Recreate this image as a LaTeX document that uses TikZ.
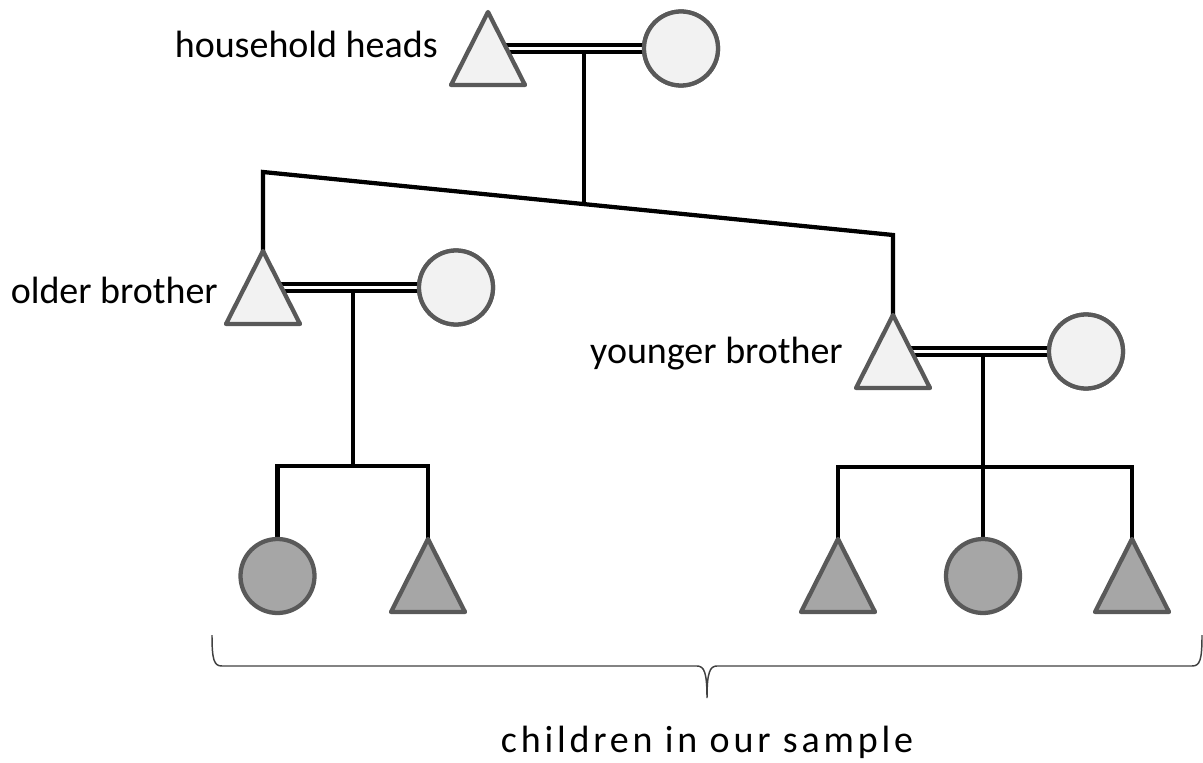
\documentclass[tikz,border=0pt]{standalone}
\usepackage{fontspec}
\setmainfont{Carlito}
\newfontfamily\spacedfont[LetterSpace=10]{Carlito}
\definecolor{lightfill}{HTML}{F2F2F2}
\definecolor{darkfill}{HTML}{A6A6A6}
\definecolor{outl}{HTML}{595959}
\definecolor{bracec}{HTML}{404040}
\begin{document}
\begin{tikzpicture}[x=0.75pt,y=-0.75pt,
  conn/.style={line width=3.2pt, draw=black},
  marriage/.style={draw=black, double=white, double distance=2.8pt, line width=2.9pt},
  lightcirc/.style={circle, draw=outl, fill=lightfill, line width=3.2pt, minimum size=55.5pt, inner sep=0pt},
  darkcirc/.style={circle, draw=outl, fill=darkfill, line width=3.2pt, minimum size=55.5pt, inner sep=0pt},
  lbl/.style={font=\fontsize{28.5}{34}\selectfont, inner sep=0pt},
  bracestyle/.style={draw=bracec, line width=1.1pt},
  pics/lighttri/.style={code={\draw[line width=3.2pt, draw=outl, fill=lightfill, line join=round] (0,-36.5) -- (37,36.5) -- (-37,36.5) -- cycle;}},
  pics/darktri/.style={code={\draw[line width=3.2pt, draw=outl, fill=darkfill, line join=round] (0,-36.5) -- (37,36.5) -- (-37,36.5) -- cycle;}}
]
\useasboundingbox (0,0) rectangle (1203,763);

% centres of triangles and their apexes
\coordinate (T0) at (488,48.5);  \coordinate (T0a) at (488,14);
\coordinate (T1) at (263,287.5); \coordinate (T1a) at (263,253);
\coordinate (T3) at (893,351.5); \coordinate (T3a) at (893,317);
\coordinate (T2) at (428,575.5); \coordinate (T2a) at (428,541);
\coordinate (T4) at (838,575.5); \coordinate (T4a) at (838,541);
\coordinate (T5) at (1132,575.5);\coordinate (T5a) at (1132,541);

% junction points
\coordinate (M0) at (584,48.5);
\coordinate (J0) at (584,204.2);
\coordinate (S0L) at (263,172);
\coordinate (S0R) at (893,235);
\coordinate (M1) at (353,287.5);
\coordinate (J1) at (353,466);
\coordinate (M3) at (983,351.5);
\coordinate (J3) at (983,467);

% connectors (drawn below the symbols)
\draw[conn] (M0) -- (J0);
\draw[conn] (T1a) -- (S0L) -- (S0R) -- (T3a);
\draw[conn] (M1) -- (J1);
\draw[conn] (M3) -- (J3);

% circles (nodes)
\node[lightcirc] (C0) at (681,48.5) {};
\node[lightcirc] (C1) at (456,287.5) {};
\node[lightcirc] (C3) at (1086,351.5) {};
\node[darkcirc, draw=none, fill=none] (C2) at (277.5,576) {};
\node[darkcirc, draw=none, fill=none] (C4) at (983,576) {};

\draw[conn] (C2.north) |- (J1) -| (T2a);
\draw[conn] (T4a) |- (J3) -| (T5a);
\draw[conn] (J3) -- (C4.north);

\draw[marriage] (T0) -- (C0.center);
\draw[marriage] (T1) -- (C1.center);
\draw[marriage] (T3) -- (C3.center);

% symbols on top
\pic at (T0) {lighttri};
\pic at (T1) {lighttri};
\pic at (T3) {lighttri};
\pic at (T2) {darktri};
\pic at (T4) {darktri};
\pic at (T5) {darktri};
\node[lightcirc] at (C0) {};
\node[lightcirc] at (C1) {};
\node[lightcirc] at (C3) {};
\node[darkcirc] at (C2) {};
\node[darkcirc] at (C4) {};

% labels
\node[lbl, anchor=base east] (L0) at (438,58) {household heads};
\node[lbl, anchor=base east] (L1) at (218,303) {older brother};
\node[lbl, anchor=base east] (L3) at (843,363) {younger brother};

% brace
\coordinate (BL) at (212,635);
\coordinate (BR) at (1202,635);
\coordinate (BT) at (707,698);
\draw[bracestyle] (BL) .. controls (212,660) and (214,666) .. (222,666) -- (697,666)
  .. controls (704,666) and (707,672) .. (BT)
  .. controls (707,672) and (710,666) .. (717,666) -- (1192,666)
  .. controls (1200,666) and (1202,660) .. (BR);

\node[lbl, anchor=base] (L4) at (707,752) {\spacedfont children in our sample};
\end{tikzpicture}
\end{document}
